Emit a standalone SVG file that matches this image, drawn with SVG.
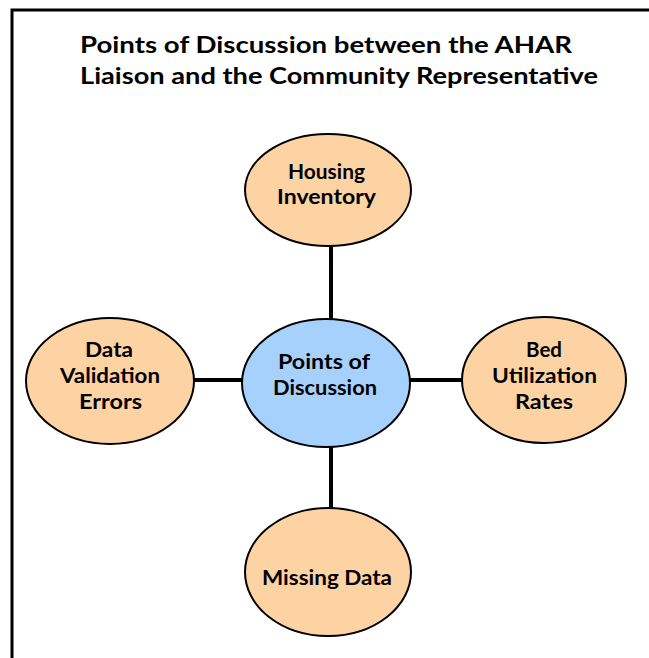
<svg xmlns="http://www.w3.org/2000/svg" width="649" height="658" viewBox="0 0 649 658">
<style>
.t{font-family:"Comic Sans MS","Lato","Liberation Sans",sans-serif;font-weight:bold;fill:#000}
.title{font-size:23px}
.lbl{font-size:20px;text-anchor:middle}
.o{fill:#FDD3A4;stroke:#000;stroke-width:2}
.b{fill:#A7D1FD;stroke:#000;stroke-width:2}
.c{stroke:#000;stroke-width:4;fill:none}
</style>
<rect x="0" y="0" width="649" height="658" fill="#fff"/>
<rect x="12" y="10" width="660" height="680" fill="none" stroke="#000" stroke-width="3"/>
<g id="title">
<text class="t title" x="80" y="53" textLength="492" lengthAdjust="spacingAndGlyphs">Points of Discussion between the AHAR</text>
<text class="t title" x="80" y="84" textLength="518" lengthAdjust="spacingAndGlyphs">Liaison and the Community Representative</text>
</g>
<g id="connectors">
<line class="c" x1="331" y1="246" x2="331" y2="321"/>
<line class="c" x1="194" y1="380" x2="243" y2="380"/>
<line class="c" x1="408" y1="380" x2="462" y2="380"/>
<line class="c" x1="331" y1="446" x2="331" y2="509"/>
</g>
<g id="housing">
<ellipse class="o" cx="328" cy="190" rx="83" ry="56"/>
<text class="t lbl" x="326.5" y="179" textLength="77" lengthAdjust="spacingAndGlyphs">Housing</text>
<text class="t lbl" x="326.5" y="204" textLength="99" lengthAdjust="spacingAndGlyphs">Inventory</text>
</g>
<g id="center">
<ellipse class="b" cx="326" cy="383" rx="84" ry="64"/>
<text class="t lbl" x="324" y="369" textLength="92" lengthAdjust="spacingAndGlyphs">Points of</text>
<text class="t lbl" x="325" y="395" textLength="104" lengthAdjust="spacingAndGlyphs">Discussion</text>
</g>
<g id="validation">
<ellipse class="o" cx="110" cy="381" rx="84" ry="63"/>
<text class="t lbl" x="109" y="357" textLength="48" lengthAdjust="spacingAndGlyphs">Data</text>
<text class="t lbl" x="110" y="383" textLength="100" lengthAdjust="spacingAndGlyphs">Validation</text>
<text class="t lbl" x="110.5" y="409" textLength="63" lengthAdjust="spacingAndGlyphs">Errors</text>
</g>
<g id="bed">
<ellipse class="o" cx="544" cy="380" rx="82" ry="63"/>
<text class="t lbl" x="544" y="357" textLength="36" lengthAdjust="spacingAndGlyphs">Bed</text>
<text class="t lbl" x="544.5" y="383" textLength="105" lengthAdjust="spacingAndGlyphs">Utilization</text>
<text class="t lbl" x="544" y="409" textLength="58" lengthAdjust="spacingAndGlyphs">Rates</text>
</g>
<g id="missing">
<ellipse class="o" cx="328" cy="572" rx="83" ry="64"/>
<text class="t lbl" x="327" y="585" textLength="130" lengthAdjust="spacingAndGlyphs">Missing Data</text>
</g>
</svg>
